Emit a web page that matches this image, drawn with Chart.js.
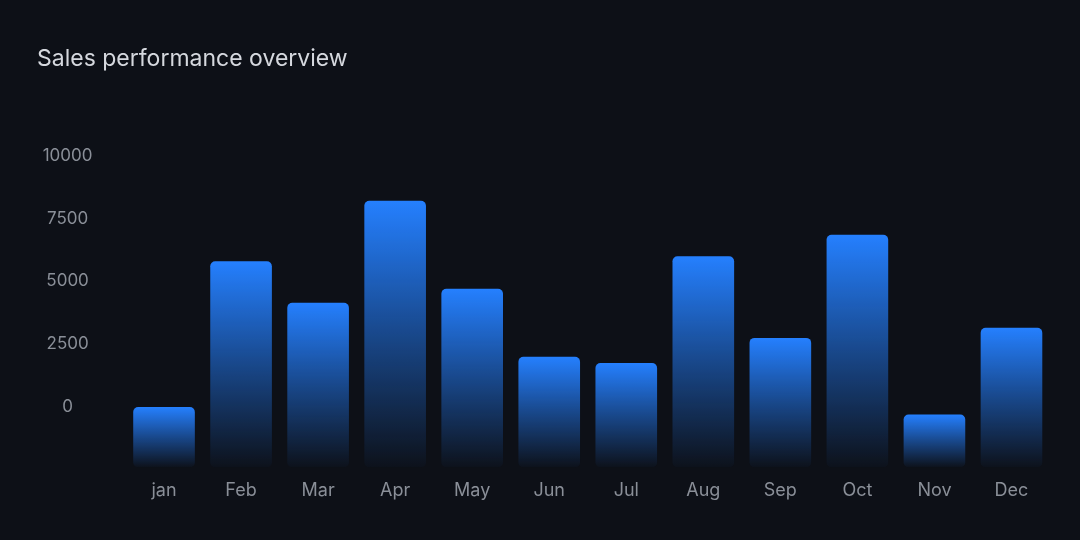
<!DOCTYPE html>
<html>
<head>
<meta charset="utf-8">
<script src="https://cdn.jsdelivr.net/npm/chart.js@4/dist/chart.umd.min.js"></script>
<style>
  html, body { margin: 0; padding: 0; background: #0d1017; }
  #box { width: 1080px; height: 540px; }
</style>
</head>
<body>
<div id="box"><canvas id="grafico"></canvas></div>
<script>
// dati
const mesi = ["jan", "Feb", "Mar", "Apr", "May", "Jun", "Jul", "Aug", "Sep", "Oct", "Nov", "Dec"];
const vendite = [0, 5800, 4150, 8200, 4700, 2000, 1750, 6000, 2750, 6850, -300, 3150];
const tickY = [0, 2500, 5000, 7500, 10000];
const asseMin = -2400;
const asseMax = 10000;

const BLU = "rgb(37,128,255)";

// gradiente per ogni barra: dal suo top fino al fondo dell'area
function coloreBarra(ctx) {
  const chart = ctx.chart;
  const area = chart.chartArea;
  if (!area || ctx.type !== "data") return BLU;
  const top = chart.scales.y.getPixelForValue(ctx.raw);
  const g = chart.ctx.createLinearGradient(0, top, 0, area.bottom);
  g.addColorStop(0, BLU);
  g.addColorStop(0.5, "rgba(37,128,255,0.5)");
  g.addColorStop(1, "rgba(37,128,255,0.02)");
  return g;
}

Chart.defaults.font.family = "Inter, 'Noto Sans', sans-serif";

new Chart(document.getElementById("grafico"), {
  type: "bar",
  data: {
    labels: mesi,
    datasets: [{
      data: vendite,
      base: asseMin,
      backgroundColor: coloreBarra,
      borderWidth: 0,
      borderRadius: 5,
      borderSkipped: false,
      barPercentage: 0.8,
      categoryPercentage: 1
    }]
  },
  options: {
    responsive: true,
    maintainAspectRatio: false,
    animation: false,
    layout: { padding: { top: 30, left: 37, right: 30, bottom: 27 } },
    plugins: {
      legend: { display: false },
      tooltip: { enabled: false },
      title: {
        display: true,
        text: "Sales performance overview",
        align: "start",
        color: "#d5d8de",
        font: { size: 23, weight: "400" },
        padding: { top: 15, bottom: 83 }
      }
    },
    scales: {
      x: {
        grid: { display: false, drawTicks: false },
        border: { display: false },
        ticks: { color: "#8a8f98", font: { size: 18 }, padding: 12 }
      },
      y: {
        min: asseMin,
        max: asseMax,
        grid: { display: false, drawTicks: false },
        border: { display: false },
        afterFit: function (scale) { scale.width = 88.5; },
        afterBuildTicks: function (scale) {
          scale.ticks = tickY.map(function (v) { return { value: v }; });
        },
        ticks: {
          color: "#8a8f98",
          font: { size: 17 },
          padding: 33,
          crossAlign: "center",
          callback: function (v) { return String(v); }
        }
      }
    }
  }
});
</script>
</body>
</html>
